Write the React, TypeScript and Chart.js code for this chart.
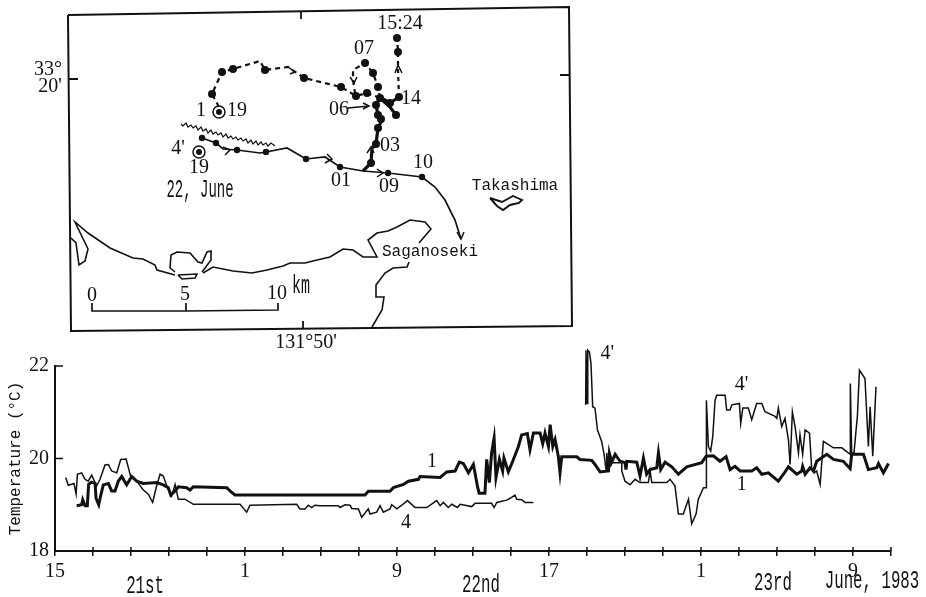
import React, { useEffect, useRef } from "react";
import { Chart, registerables } from "chart.js";

Chart.register(...registerables);

type P = [number, number];

// ---- Temperature record: [hours after 15:00 on the 21st, degrees C] ----
const series1: P[] = [
  [1.14,18.98],[1.40,19.00],[1.46,19.11],[1.58,18.98],[1.70,18.98],[1.77,19.44],[1.93,19.49],[2.11,19.46],[2.16,19.14],[2.30,19.00],
  [2.40,19.19],[2.54,19.43],[2.81,19.46],[2.98,19.30],[3.16,19.30],[3.33,19.51],[3.51,19.61],[3.77,19.43],[4.04,19.61],[4.30,19.51],
  [4.65,19.46],[5.35,19.48],[5.70,19.43],[5.96,19.37],[6.09,19.21],[6.32,19.30],[6.49,19.39],[6.93,19.37],[7.11,19.32],[7.28,19.39],
  [9.04,19.37],[9.21,19.30],[9.47,19.21],[13.95,19.21],[16.32,19.21],[16.49,19.29],[17.63,19.29],[17.81,19.37],[18.34,19.44],[18.60,19.51],
  [19.13,19.55],[19.21,19.61],[20.27,19.59],[20.62,19.71],[21.06,19.73],[21.28,19.92],[21.49,19.89],[21.76,19.69],[22.02,19.87],[22.23,19.41],
  [22.32,19.25],[22.63,19.25],[22.72,19.98],[22.86,19.48],[22.98,20.12],[23.11,20.44],[23.21,19.59],[23.39,19.98],[23.56,19.73],[23.63,20.01],
  [23.86,19.71],[24.09,19.94],[24.39,20.26],[24.56,20.51],[24.86,20.54],[25.00,20.19],[25.18,20.55],[25.53,20.55],[25.67,20.32],[25.79,20.55],
  [25.97,20.26],[26.06,20.73],[26.20,20.26],[26.32,20.41],[26.49,20.05],[26.58,19.69],[26.67,20.04],[27.46,20.04],[27.63,19.98],[28.25,19.96],
  [28.42,19.87],[28.69,19.71],[29.13,19.73],[29.18,20.11],[29.30,19.92],[29.48,20.09],[29.74,19.94],[30.00,19.91],[30.05,19.76],[30.10,19.94],
  [30.62,19.92],[30.79,19.62],[30.97,20.01],[31.14,19.66],[31.32,19.76],[31.67,19.80],[31.76,20.12],[31.88,19.76],[32.11,19.92],[32.46,19.82],
  [32.81,19.66],[33.25,19.82],[34.04,19.91],[34.27,20.05],[34.65,20.06],[35.00,19.94],[35.32,20.04],[35.53,19.76],[35.79,19.83],[36.06,19.73],
  [36.67,19.73],[36.93,19.80],[37.20,19.66],[37.55,19.69],[38.07,19.51],[38.34,19.66],[38.60,19.82],[39.04,19.66],[39.30,19.73],[39.35,19.83],
  [39.48,19.66],[39.74,19.80],[39.92,19.73],[40.09,19.94],[40.62,20.09],[40.97,19.98],[41.49,19.94],[41.85,19.78],[41.93,20.09],[42.55,20.09],
  [42.81,19.76],[43.25,19.80],[43.34,19.89],[43.60,19.69],[43.87,19.89],
];
const series4: P[] = [
  [0.56,19.59],[0.70,19.42],[1.00,19.46],[1.11,19.23],[1.18,19.66],[1.40,19.69],[1.58,19.55],[1.75,19.51],[1.93,19.64],[2.19,19.41],
  [2.37,19.55],[2.63,19.86],[2.81,19.87],[2.98,19.73],[3.25,19.69],[3.46,19.98],[3.74,19.99],[3.98,19.62],[4.30,19.51],[4.65,19.32],
  [4.91,19.23],[5.14,19.05],[5.35,19.41],[5.53,19.66],[5.70,19.62],[5.88,19.41],[6.14,19.19],[6.32,19.44],[6.49,19.12],[6.84,19.12],
  [7.28,19.01],[9.74,19.01],[10.09,18.84],[10.26,18.99],[12.72,19.01],[12.89,18.91],[13.16,18.91],[13.33,18.99],[13.51,18.94],[13.68,18.99],
  [13.95,18.98],[14.91,18.98],[15.00,18.94],[15.27,19.00],[15.53,18.99],[15.62,18.92],[15.97,18.91],[16.14,18.73],[16.32,18.82],[16.49,18.91],
  [16.58,18.80],[16.93,18.84],[17.11,18.98],[17.28,18.84],[17.63,18.91],[17.72,19.00],[17.99,18.91],[18.25,18.99],[18.55,19.09],[18.95,18.94],
  [19.56,18.94],[20.09,19.09],[20.27,18.98],[20.44,19.05],[20.70,18.94],[20.88,19.01],[21.18,18.94],[21.32,19.01],[21.93,18.96],[22.11,19.03],
  [22.98,19.03],[23.11,18.94],[23.25,19.05],[23.77,19.10],[23.95,19.14],[24.21,19.21],[24.30,19.12],[24.56,19.11],[24.74,19.05],[25.18,19.05],
];
const series4Prime: P[] = [
  [27.93,21.16],[27.95,22.34],[28.00,21.19],[28.04,22.34],[28.13,22.30],[28.21,22.05],[28.30,21.12],[28.42,21.09],[28.55,20.62],[28.77,20.37],
  [28.90,20.09],[29.00,19.76],[29.04,20.12],[29.13,19.76],[29.30,19.91],[29.83,19.91],[29.83,19.73],[30.00,19.51],[30.27,19.43],[30.53,19.55],
  [30.79,19.48],[31.23,19.48],[31.32,19.73],[31.41,19.48],[32.20,19.48],[32.37,19.55],[32.63,19.41],[32.81,18.80],[33.07,18.80],[33.34,19.12],
  [33.51,18.59],[33.74,18.80],[33.86,19.12],[34.13,19.37],[34.27,19.37],[34.27,20.05],[34.30,21.26],[34.39,20.26],[34.51,20.16],[34.62,20.48],
  [34.74,21.26],[34.83,21.37],[35.27,21.37],[35.35,21.05],[35.53,21.05],[35.62,21.16],[36.02,21.19],[36.09,20.76],[36.20,21.09],[36.49,21.09],
  [36.67,20.84],[36.93,21.19],[37.20,21.19],[37.37,21.01],[37.90,20.91],[37.99,20.87],[38.07,21.09],[38.25,20.69],[38.42,20.87],[38.60,20.41],
  [38.69,19.87],[38.81,21.01],[38.95,20.69],[39.13,20.12],[39.21,20.51],[39.35,20.09],[39.48,20.62],[39.71,20.55],[39.83,19.76],[39.95,19.69],
  [40.09,19.73],[40.27,19.44],[40.44,20.37],[40.97,20.23],[41.41,20.23],[41.85,20.09],[41.86,21.62],[41.93,20.12],[42.05,20.12],[42.23,20.91],
  [42.34,21.91],[42.63,21.73],[42.81,20.26],[42.90,21.12],[43.04,20.05],[43.21,21.55],
];
const hourLabels: Record<number, string> = { 0: "15", 10: "1", 18: "9", 26: "17", 34: "1", 42: "9" };
const tempTicks = [18, 20, 22];
const seriesNames = ["1", "4", "4'"];

// ---- Map: digitized map coordinates ----
const mapFrame: P[] = [[68,15],[569,7],[572,326],[71,331],[68,15]];
const dashedTrack: P[] = [[219,107],[212,94],[222,72],[233,69],[260,61],[265,70],[288,67],[304,78],[341,87],[356,96],[367,93],[380,98]];
const dashedLoop: P[] = [[380,98],[378,87],[373,73],[365,63],[353,70],[353,80],[355,93]];
const dashedNorth: P[] = [[399,97],[398,70],[398,52],[397,38]];
const dashedDots: P[] = [[212,94],[222,72],[233,69],[265,70],[304,78],[341,87],[356,96],[367,93],[365,63],[373,73],[378,87],[398,52],[397,38],[399,97]];
const thickTrack: P[] = [[396,115],[390,107],[380,98],[376,105],[378,115],[382,120],[378,128],[376,144],[372,148],[371,163],[363,171]];
const thickBranch: P[] = [[399,97],[390,103],[383,99]];
const thickDots: P[] = [[396,115],[390,103],[380,98],[376,105],[378,115],[381,119],[378,128],[376,144],[371,163]];
const solidTrack: P[] = [[202,138],[216,143],[223,149],[237,150],[260,153],[266,152],[287,148],[306,159],[325,157],[340,167],[363,171],[388,173],[422,177],[435,187],[445,200],[455,220],[461,239]];
const solidDots: P[] = [[202,138],[216,143],[237,150],[266,152],[306,159],[340,167],[388,173],[422,177]];
const arrowSegments: (P | null)[] = [
  [223,147],[230,150],[225,155],null,[327,154],[332,159],[325,163],null,[377,169],[383,173],[377,177],null,
  [457,232],[461,239],[464,232],null,[288,67],[295,72],[290,74],null,[395,73],[398,65],[402,73],null,
  [367,153],[371,147],[374,153],null,[350,77],[354,83],[357,77],null,[348,108],[369,106],null,[363,103],[369,106],[363,109],
];
const stations: P[] = [[219,112],[199,152]];
const wavyFront: P[] = [
  [181,124],[183,126],[186,123],[188,127],[191,125],[193,128],[196,126],[198,130],[201,127],[203,131],[206,129],[208,133],[211,130],
  [213,134],[216,132],[218,135],[221,133],[223,137],[226,134],[228,138],[231,136],[233,139],[236,137],[238,140],[241,138],[243,141],
  [246,139],[248,143],[251,140],[253,144],[256,141],[258,145],[261,142],[263,145],[266,143],[268,146],[271,143],[275,146],
];
const coastWest: P[] = [[71,238],[76,243],[79,265],[85,261],[88,249],[75,222],[88,233],[110,248],[133,258],[143,259],[155,265],[157,270],[175,275]];
const harbor: P[] = [[175,272],[170,268],[171,255],[177,252],[190,253],[198,262],[202,263],[207,252],[211,251],[211,260],[202,272]];
const harborBar: P[] = [[178,275],[197,274],[195,278],[182,279],[178,275]];
const coastEast: P[] = [[203,273],[213,267],[233,271],[252,273],[267,270],[283,266],[290,263],[305,263],[317,260],[330,257],[343,249],[353,250],[363,257],[377,257],[368,240],[377,233],[388,231],[397,227],[410,220],[425,222],[431,229],[419,243]];
const coastSouth: P[] = [[409,262],[407,267],[393,268],[385,273],[376,285],[376,297],[384,297],[382,310],[372,327]];
const takashima: P[] = [[490,198],[502,202],[513,196],[522,200],[519,203],[510,205],[503,210],[497,206],[490,198]];
const scaleBar: P[] = [[92,303],[92,311],[186,311],[186,303],[186,311],[278,310],[278,303]];
const frameTicks: (P | null)[] = [[68,79],[78,79],null,[569,75],[560,75],null,[301,11],[301,19],null,[303,321],[303,329]];

const SERIF = "'Liberation Serif', serif";
const MONO = "'Liberation Mono', monospace";
const INK = "#111";
const NUM_FONT = `20px ${SERIF}`;
const WORD_FONT = `25px ${MONO}`;
const TYPE_FONT = `16px ${MONO}`;

type Label = { t: string; x: number; y: number; font?: string; sx?: number };
const mapLabels: Label[] = [
  { t: "33°", x: 48, y: 70 }, { t: "20'", x: 50, y: 87 }, { t: "15:24", x: 400, y: 24 }, { t: "07", x: 364, y: 49 },
  { t: "06", x: 339, y: 110 }, { t: "14", x: 411, y: 99 }, { t: "03", x: 390, y: 146 }, { t: "10", x: 423, y: 163 },
  { t: "01", x: 341, y: 181 }, { t: "09", x: 389, y: 187 }, { t: "1", x: 201, y: 111 }, { t: "19", x: 237, y: 111 },
  { t: "4'", x: 178, y: 149 }, { t: "19", x: 199, y: 168 }, { t: "22, June", x: 200, y: 190, font: WORD_FONT, sx: 0.56 },
  { t: "Takashima", x: 515, y: 186, font: TYPE_FONT }, { t: "Saganoseki", x: 430, y: 252, font: TYPE_FONT },
  { t: "0", x: 92, y: 296 }, { t: "5", x: 185, y: 295 }, { t: "10", x: 277, y: 294 }, { t: "km", x: 301, y: 286, font: WORD_FONT, sx: 0.6 },
  { t: "131°50'", x: 306, y: 343 },
];
const tempLabels: Label[] = [
  { t: seriesNames[0], x: 19.84, y: 19.94 }, { t: seriesNames[1], x: 18.48, y: 18.62 }, { t: seriesNames[2], x: 29.07, y: 22.26 },
  { t: seriesNames[2], x: 36.14, y: 21.59 }, { t: seriesNames[0], x: 36.14, y: 19.44 },
  { t: "21st", x: 4.74, y: 17.23, font: WORD_FONT, sx: 0.63 }, { t: "22nd", x: 22.42, y: 17.25, font: WORD_FONT, sx: 0.63 },
  { t: "23rd", x: 37.79, y: 17.3, font: WORD_FONT, sx: 0.63 }, { t: "June, 1983", x: 43.0, y: 17.35, font: WORD_FONT, sx: 0.63 },
];

const pts = (a: (P | null)[]) => a.map((p) => (p ? { x: p[0], y: p[1] } : { x: null, y: null }));

const line = (data: (P | null)[], width: number, extra: object = {}) => ({
  data: pts(data), showLine: true, borderColor: INK, borderWidth: width, pointRadius: 0, fill: false, tension: 0, clip: false, ...extra,
});
const dots = (data: P[], r: number) => ({
  data: pts(data), showLine: false, pointRadius: r, pointBackgroundColor: INK, pointBorderWidth: 0, clip: false,
});

const labelPlugin = (id: string, labels: Label[]) => ({
  id,
  afterDraw(chart: any) {
    const { ctx, scales } = chart;
    ctx.fillStyle = INK;
    for (const l of labels) {
      ctx.save();
      ctx.textAlign = "center";
      ctx.textBaseline = "middle";
      ctx.font = l.font ?? NUM_FONT;
      ctx.translate(scales.x.getPixelForValue(l.x), scales.y.getPixelForValue(l.y));
      ctx.scale(l.sx ?? 1, 1);
      ctx.fillText(l.t, 0, 0);
      ctx.restore();
    }
  },
});

const axisTickPlugin = {
  id: "crossTicks",
  afterDraw(chart: any) {
    const { ctx, scales } = chart;
    const base = scales.y.getPixelForValue(18);
    const left = scales.x.getPixelForValue(0);
    ctx.save();
    ctx.strokeStyle = INK;
    ctx.lineWidth = 1.5;
    ctx.beginPath();
    for (let h = 0; h <= 44; h += 2) {
      const x = scales.x.getPixelForValue(h);
      ctx.moveTo(x, base);
      ctx.lineTo(x, base - 4);
    }
    for (const t of tempTicks) {
      const y = scales.y.getPixelForValue(t);
      ctx.moveTo(left, y);
      ctx.lineTo(left + (t === 18 ? 3 : 8), y);
    }
    ctx.stroke();
    ctx.restore();
  },
};

export default function App() {
  const mapRef = useRef<HTMLCanvasElement>(null);
  const tempRef = useRef<HTMLCanvasElement>(null);

  useEffect(() => {
    const mapChart = new Chart(mapRef.current!, {
      type: "scatter",
      data: {
        datasets: [
          line(mapFrame, 2),
          line(frameTicks, 1.8),
          line(arrowSegments, 1.5),
          dots(stations, 3),
          { data: pts(stations), showLine: false, pointRadius: 6, pointBorderWidth: 1.5, pointBorderColor: INK, pointBackgroundColor: "#fff", clip: false },
          dots(dashedDots, 4),
          dots(thickDots, 4),
          dots(solidDots, 3.2),
          line(dashedTrack, 2.2, { borderDash: [5, 4] }),
          line(dashedLoop, 2.2, { borderDash: [5, 4] }),
          line(dashedNorth, 2.2, { borderDash: [4, 4] }),
          line(thickTrack, 3.2),
          line(thickBranch, 3.2),
          line(solidTrack, 1.7),
          line(wavyFront, 1.2),
          line(coastWest, 1.6),
          line(harbor, 1.6),
          line(harborBar, 1.6),
          line(coastEast, 1.6),
          line(coastSouth, 1.6),
          line(takashima, 1.9),
          line(scaleBar, 1.7),
        ] as any,
      },
      options: {
        animation: false,
        responsive: false,
        devicePixelRatio: 1,
        layout: { padding: 0, autoPadding: false },
        plugins: { legend: { display: false }, tooltip: { enabled: false } },
        scales: {
          x: { type: "linear", display: false, min: 0, max: 926 },
          y: { type: "linear", display: false, min: 0, max: 597, reverse: true },
        },
      },
      plugins: [labelPlugin("mapLabels", mapLabels)],
    } as any);

    const tempChart = new Chart(tempRef.current!, {
      type: "scatter",
      data: {
        datasets: [
          line(series1, 3),
          line(series4, 1.5),
          line(series4Prime, 1.5),
        ] as any,
      },
      options: {
        animation: false,
        responsive: false,
        devicePixelRatio: 1,
        layout: { padding: { top: 366, right: 35, left: 0, bottom: 0 }, autoPadding: false },
        plugins: { legend: { display: false }, tooltip: { enabled: false } },
        scales: {
          x: {
            type: "linear",
            min: 0,
            max: 44,
            afterFit: (s: any) => { s.height = 46; },
            afterBuildTicks: (s: any) => {
              const ticks = [];
              for (let h = 0; h <= 44; h += 2) ticks.push({ value: h });
              s.ticks = ticks;
            },
            border: { display: true, color: INK, width: 2 },
            grid: { drawOnChartArea: false, drawTicks: true, tickLength: 5, color: INK, lineWidth: 1.5 },
            ticks: {
              autoSkip: false,
              maxRotation: 0,
              padding: 4,
              color: INK,
              font: { family: SERIF, size: 20 },
              callback: (v: any) => hourLabels[v] ?? "",
            },
          },
          y: {
            type: "linear",
            min: 18,
            max: 22,
            afterFit: (s: any) => { s.width = 55; },
            afterBuildTicks: (s: any) => { s.ticks = tempTicks.map((value) => ({ value })); },
            border: { display: true, color: INK, width: 2 },
            grid: { drawOnChartArea: false, drawTicks: false },
            title: { display: true, text: "Temperature (°C)", color: INK, font: { family: MONO, size: 16 }, padding: { top: 6, bottom: 0 } },
            ticks: { padding: 6, color: INK, font: { family: SERIF, size: 20 }, callback: (v: any) => String(v) },
          },
        },
      },
      plugins: [axisTickPlugin, labelPlugin("tempLabels", tempLabels)],
    } as any);

    return () => {
      mapChart.destroy();
      tempChart.destroy();
    };
  }, []);

  const layer: React.CSSProperties = { position: "absolute", left: 0, top: 0, display: "block" };
  return (
    <div style={{ position: "absolute", left: 0, top: 0, width: 926, height: 597, background: "#fff", overflow: "hidden" }}>
      <canvas ref={tempRef} width={926} height={597} style={layer} />
      <canvas ref={mapRef} width={926} height={597} style={layer} />
    </div>
  );
}
